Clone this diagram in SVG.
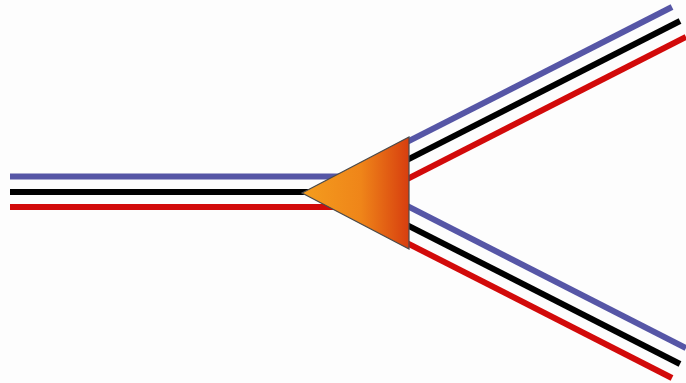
<svg xmlns="http://www.w3.org/2000/svg" width="686" height="383" viewBox="0 0 686 383">
  <style>
    .w { fill: none; stroke-width: 6; stroke-linecap: butt; }
    .blue { stroke: #5656a6; }
    .black { stroke: #000000; }
    .red { stroke: #d20a0a; }
  </style>
  <defs>
    <linearGradient id="tri" x1="302" y1="0" x2="409" y2="0" gradientUnits="userSpaceOnUse">
      <stop offset="0" stop-color="#f49d1e"/>
      <stop offset="0.55" stop-color="#ef8519"/>
      <stop offset="1" stop-color="#d73e0f"/>
    </linearGradient>
  </defs>
  <rect width="686" height="383" fill="#fdfdfd"/>
  <g id="connectors">
    <line class="w blue" x1="10" y1="176.5" x2="370" y2="176.5"/>
    <line class="w black" x1="10" y1="192" x2="370" y2="192"/>
    <line class="w red" x1="10" y1="207" x2="370" y2="207"/>
    <line class="w blue" x1="385" y1="153.2" x2="672" y2="7"/>
    <line class="w black" x1="385" y1="171.2" x2="680" y2="21"/>
    <line class="w red" x1="385" y1="190.3" x2="686" y2="37"/>
    <line class="w blue" x1="385" y1="194.7" x2="686" y2="348"/>
    <line class="w black" x1="385" y1="213.8" x2="680" y2="364"/>
    <line class="w red" x1="385" y1="231.8" x2="672" y2="378"/>
  </g>
  <g id="node-triangle">
    <polygon points="302,193 409,137 409,249" fill="url(#tri)" stroke="#4a4a4a" stroke-width="1.2" stroke-linejoin="miter"/>
  </g>
</svg>
